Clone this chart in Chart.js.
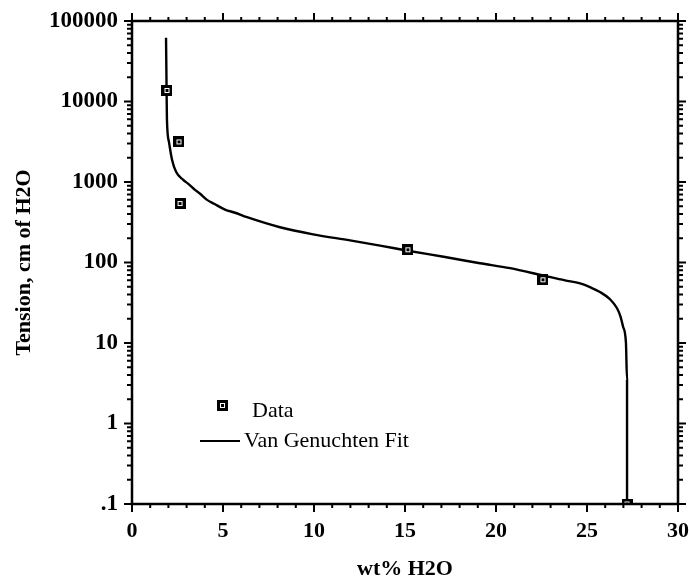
<!DOCTYPE html>
<html>
<head>
<meta charset="utf-8">
<script src="https://cdn.jsdelivr.net/npm/chart.js@4.4.1/dist/chart.umd.min.js"></script>
<style>
    html, body { margin: 0; padding: 0; background: #fff; }
    #wrap { width: 689px; height: 585px; }
</style>
</head>
<body>
<div id="wrap"><canvas id="TensionChart"></canvas></div>
<script>
// measured points (wt% H2O, tension in cm of H2O)
var dataWt = [1.92, 2.58, 2.64, 15.16, 22.58, 27.2];
var dataTension = [13700, 3150, 540, 144, 61, 0.1];

// Van Genuchten fit
var fitWt = [1.87, 1.90, 1.92, 2.03, 2.20, 2.42, 2.80, 3.08, 3.46, 3.74, 4.12, 4.51, 5.11, 5.66, 6.32, 8.13, 9.95, 11.98, 13.63, 15.16, 17.2, 19.12, 20.77, 22.58, 23.79, 24.62, 25.2, 25.71, 26.26, 26.65, 26.85, 26.98, 27.14, 27.2, 27.2, 27.2];
var fitTension = [62000, 14000, 5960, 3150, 1890, 1340, 1070, 953, 800, 715, 600, 537, 455, 415, 365, 274, 224, 188, 162, 140, 117, 98, 85, 69, 60, 55, 49, 43, 35, 27, 21, 16, 10, 3.5, 0.47, 0.1];

var yDecades = [0.1, 1, 10, 100, 1000, 10000, 100000];
var yDecadeLabels = ['.1', '1', '10', '100', '1000', '10000', '100000'];
var xLabelStep = 5;

var serif = "'Liberation Serif', 'Times New Roman', serif";

function toPoints(xs, ys) {
    var pts = [];
    for (var i = 0; i < xs.length; i++) {
        pts.push({ x: xs[i], y: ys[i] });
    }
    return pts;
}

function makeMarker() {
    var c = document.createElement('canvas');
    c.width = 11;
    c.height = 11;
    var g = c.getContext('2d');
    g.fillStyle = '#000';
    g.fillRect(0, 0, 11, 11);
    g.strokeStyle = '#fff';
    g.lineWidth = 1;
    g.strokeRect(3.5, 3.5, 4, 4);
    return c;
}
var marker = makeMarker();

function yTickValues() {
    var vals = [];
    for (var d = 0; d < yDecades.length; d++) {
        vals.push(yDecades[d]);
        if (d < yDecades.length - 1) {
            for (var m = 2; m <= 9; m++) {
                vals.push(yDecades[d] * m);
            }
        }
    }
    return vals;
}

function isDecade(v) {
    for (var i = 0; i < yDecades.length; i++) {
        if (Math.abs(v - yDecades[i]) < yDecades[i] * 1e-6) return i;
    }
    return -1;
}

function noScalePadding(s) {
    s.paddingLeft = 0;
    s.paddingRight = 0;
    s.paddingTop = 0;
    s.paddingBottom = 0;
}

// frame + outward tick marks on all four sides
var framePlugin = {
    id: 'frame',
    afterDraw: function (chart) {
        var ctx = chart.ctx;
        var a = chart.chartArea;
        var xs = chart.scales.x;
        var ys = chart.scales.y;
        ctx.save();
        ctx.strokeStyle = '#000';
        ctx.lineWidth = 2;
        ctx.beginPath();
        xs.ticks.forEach(function (t) {
            var px = xs.getPixelForValue(t.value);
            var len = (t.value % xLabelStep === 0) ? 8 : 4;
            ctx.moveTo(px, a.bottom);
            ctx.lineTo(px, a.bottom + len);
            ctx.moveTo(px, a.top);
            ctx.lineTo(px, a.top - len);
        });
        ys.ticks.forEach(function (t) {
            var py = ys.getPixelForValue(t.value);
            var len = isDecade(t.value) >= 0 ? 8 : 5;
            ctx.moveTo(a.left, py);
            ctx.lineTo(a.left - len, py);
            ctx.moveTo(a.right, py);
            ctx.lineTo(a.right + len, py);
        });
        ctx.stroke();
        ctx.lineWidth = 2.5;
        ctx.strokeRect(a.left, a.top, a.right - a.left, a.bottom - a.top);
        ctx.restore();
    }
};

// legend sits inside the plot area
var legendPlugin = {
    id: 'innerLegend',
    afterDraw: function (chart) {
        var ctx = chart.ctx;
        ctx.save();
        ctx.drawImage(marker, 217, 400);
        ctx.fillStyle = '#000';
        ctx.font = '22px ' + serif;
        ctx.textBaseline = 'middle';
        ctx.fillText('Data', 252, 411);
        ctx.strokeStyle = '#000';
        ctx.lineWidth = 2;
        ctx.beginPath();
        ctx.moveTo(200, 441);
        ctx.lineTo(240, 441);
        ctx.stroke();
        ctx.fillText('Van Genuchten Fit', 244, 441);
        ctx.restore();
    }
};

var ctx = document.getElementById('TensionChart').getContext('2d');
var tensionChart = new Chart(ctx, {
    type: 'scatter',
    data: {
        datasets: [{
            label: 'Data',
            data: toPoints(dataWt, dataTension),
            pointStyle: marker,
            pointRadius: 5,
            showLine: false
        }, {
            label: 'Van Genuchten Fit',
            data: toPoints(fitWt, fitTension),
            showLine: true,
            borderColor: '#000',
            borderWidth: 2.4,
            pointRadius: 0,
            tension: 0.3,
            cubicInterpolationMode: 'monotone'
        }]
    },
    options: {
        responsive: true,
        maintainAspectRatio: false,
        animation: false,
        events: [],
        layout: { padding: { top: 21, right: 11, left: 0, bottom: 0 } },
        plugins: {
            legend: { display: false },
            tooltip: { enabled: false }
        },
        scales: {
            x: {
                type: 'linear',
                min: 0,
                max: 30,
                grid: { display: false, drawTicks: false },
                border: { display: false },
                ticks: {
                    stepSize: 1,
                    autoSkip: false,
                    maxRotation: 0,
                    padding: 14,
                    color: '#000',
                    font: { family: serif, size: 22, weight: 'bold' },
                    callback: function (v) { return v % xLabelStep === 0 ? String(v) : ''; }
                },
                title: {
                    display: true,
                    text: 'wt% H2O',
                    color: '#000',
                    font: { family: serif, size: 22, weight: 'bold' },
                    padding: { top: 0, bottom: 2 }
                },
                afterFit: function (s) { s.height = 81; noScalePadding(s); }
            },
            y: {
                type: 'logarithmic',
                min: 0.1,
                max: 100000,
                grid: { display: false, drawTicks: false },
                border: { display: false },
                afterBuildTicks: function (s) {
                    s.ticks = yTickValues().map(function (v) { return { value: v }; });
                },
                ticks: {
                    autoSkip: false,
                    padding: 14,
                    color: '#000',
                    font: { family: serif, size: 23, weight: 'bold' },
                    callback: function (v) {
                        var i = isDecade(v);
                        return i >= 0 ? yDecadeLabels[i] : '';
                    }
                },
                title: {
                    display: true,
                    text: 'Tension, cm of H2O',
                    color: '#000',
                    font: { family: serif, size: 22, weight: 'bold' },
                    padding: { top: 11, bottom: 0 }
                },
                afterFit: function (s) { s.width = 132; noScalePadding(s); }
            }
        }
    },
    plugins: [framePlugin, legendPlugin]
});
</script>
</body>
</html>
